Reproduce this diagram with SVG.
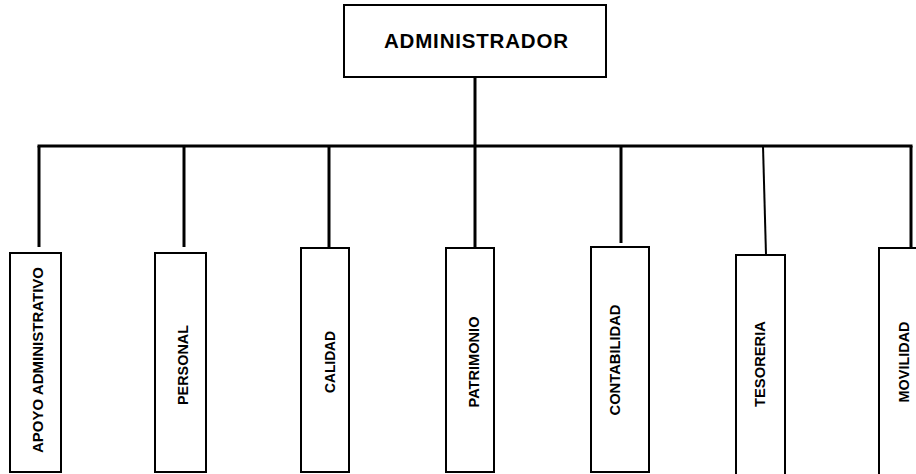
<svg xmlns="http://www.w3.org/2000/svg" width="916" height="474" viewBox="0 0 916 474">
<style>
.box{fill:#fff;stroke:#000;stroke-width:2}
.ln{stroke:#000;stroke-width:3;fill:none}
.t{font-family:"Liberation Sans",Arial,sans-serif;font-weight:bold;fill:#000}
.v{font-size:15px}
</style>
<rect width="916" height="474" fill="#fff"/>
<g id="connectors">
<line class="ln" x1="475" y1="77" x2="475" y2="146"/>
<line class="ln" x1="37.5" y1="146" x2="912.5" y2="146"/>
<line class="ln" x1="39" y1="146" x2="39" y2="247"/>
<line class="ln" x1="184" y1="146" x2="184" y2="247"/>
<line class="ln" x1="329" y1="146" x2="329" y2="248"/>
<line class="ln" x1="475" y1="146" x2="475" y2="248"/>
<line class="ln" x1="621" y1="146" x2="621" y2="243"/>
<line x1="763" y1="146" x2="766" y2="255" stroke="#000" stroke-width="2"/>
<line class="ln" x1="911" y1="146" x2="911" y2="248"/>
</g>
<g id="administrador">
<rect class="box" x="344" y="5" width="262" height="72"/>
<text class="t" x="476" y="48" font-size="20.5" text-anchor="middle" textLength="184" lengthAdjust="spacing">ADMINISTRADOR</text>
</g>
<g id="apoyo">
<rect class="box" x="10" y="253" width="51" height="219"/>
<text class="t v" transform="translate(43,360) rotate(-90)" text-anchor="middle" textLength="186" lengthAdjust="spacingAndGlyphs">APOYO ADMINISTRATIVO</text>
</g>
<g id="personal">
<rect class="box" x="155" y="253" width="51" height="219"/>
<text class="t v" transform="translate(188,365) rotate(-90)" text-anchor="middle" textLength="80" lengthAdjust="spacingAndGlyphs">PERSONAL</text>
</g>
<g id="calidad">
<rect class="box" x="301" y="248" width="48" height="224"/>
<text class="t v" transform="translate(335,362) rotate(-90)" text-anchor="middle" textLength="62" lengthAdjust="spacingAndGlyphs">CALIDAD</text>
</g>
<g id="patrimonio">
<rect class="box" x="446" y="248" width="48" height="224"/>
<text class="t v" transform="translate(479,362) rotate(-90)" text-anchor="middle" textLength="91" lengthAdjust="spacingAndGlyphs">PATRIMONIO</text>
</g>
<g id="contabilidad">
<rect class="box" x="591" y="247" width="58" height="225"/>
<text class="t v" transform="translate(620,360) rotate(-90)" text-anchor="middle" textLength="111" lengthAdjust="spacingAndGlyphs">CONTABILIDAD</text>
</g>
<g id="tesoreria">
<rect class="box" x="736" y="255" width="49" height="220"/>
<text class="t v" transform="translate(765,364) rotate(-90)" text-anchor="middle" textLength="86" lengthAdjust="spacingAndGlyphs">TESORERIA</text>
</g>
<g id="movilidad">
<rect class="box" x="879" y="248" width="50" height="228"/>
<text class="t v" transform="translate(909,362) rotate(-90)" text-anchor="middle" textLength="81" lengthAdjust="spacingAndGlyphs">MOVILIDAD</text>
</g>
</svg>
